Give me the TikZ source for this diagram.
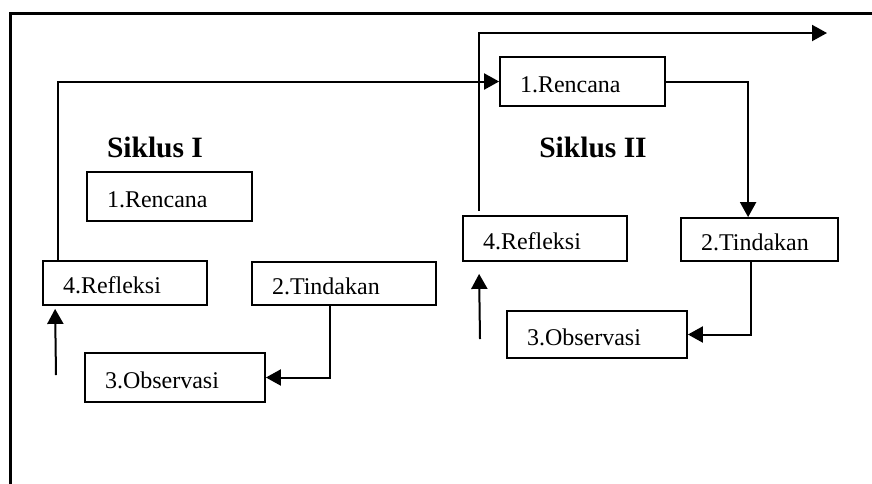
\documentclass[tikz,border=0pt]{standalone}
\usepackage{fontspec}
\setmainfont{Liberation Serif}
\usetikzlibrary{arrows.meta}
\begin{document}
\begin{tikzpicture}[x=1pt,y=-1pt,
  stepbox/.style={draw, line width=1.8pt, inner xsep=20pt, inner ysep=0pt, align=left,
    font=\fontsize{24}{28}\selectfont, text height=21pt, text depth=0pt},
  conn/.style={line width=2pt, -{Triangle[length=15pt,width=16pt]}},
  title/.style={font=\fontsize{29.5}{34}\selectfont\bfseries, anchor=base}]
\useasboundingbox (0,0) rectangle (872,483);
\draw[line width=3pt] (10.5,490) -- (10.5,13) -- (880,13);
% Siklus I
\node[title] (t1) at (155,157) {Siklus I};
\node[stepbox, text width=125pt, minimum height=49pt] (ren1) at (169.5,196.5) {1.Rencana};
\node[stepbox, text width=124pt, minimum height=44pt] (ref1) at (125,283) {4.Refleksi};
\node[stepbox, text width=144pt, minimum height=43pt] (tin1) at (344,283.5) {2.Tindakan};
\node[stepbox, text width=140pt, minimum height=49pt] (obs1) at (175,377.5) {3.Observasi};
% Siklus II
\node[title] (t2) at (593,157) {Siklus II};
\node[stepbox, text width=125pt, minimum height=49pt] (ren2) at (582.5,81.5) {1.Rencana};
\node[stepbox, text width=124pt, minimum height=45pt] (ref2) at (545,238.5) {4.Refleksi};
\node[stepbox, text width=117pt, minimum height=43pt] (tin2) at (759.5,239.5) {2.Tindakan};
\node[stepbox, text width=140pt, minimum height=47pt] (obs2) at (597,334.5) {3.Observasi};
% connectors
\coordinate (up1) at (56,375);
\coordinate (up2) at (480,339);
\coordinate (out) at (827,33);
\draw[conn] ([xshift=16pt]ref1.north west) |- (ren2.west);
\draw[conn] ([xshift=79pt]tin1.south west) |- (obs1.east);
\draw[conn] (up1) -- ([xshift=13pt,yshift=-3pt]ref1.south west);
\draw[conn] (ren2.east) -| ([xshift=68pt]tin2.north west);
\draw[conn] ([xshift=71pt]tin2.south west) |- (obs2.east);
\draw[conn] (up2) -- ([xshift=17pt,yshift=-12pt]ref2.south west);
\draw[conn] ([xshift=17pt,yshift=4pt]ref2.north west) |- (out);
\end{tikzpicture}
\end{document}
